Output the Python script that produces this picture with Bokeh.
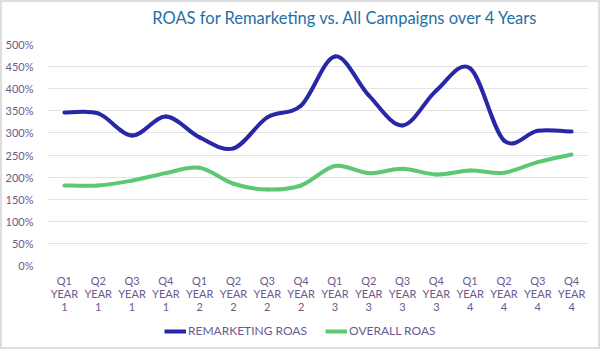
from bokeh.plotting import figure
from bokeh.models import (FixedTicker, Legend, LegendItem, ColumnDataSource, Range1d, Label)
from bokeh.layouts import column
from bokeh.embed import file_html
from bokeh.resources import INLINE

quarters = ["Q1", "Q2", "Q3", "Q4"] * 4
years = ["1"] * 4 + ["2"] * 4 + ["3"] * 4 + ["4"] * 4
remarketing = [346, 344, 294, 337, 290, 265, 335, 362, 473, 385, 317, 396, 446, 283, 305, 303]
overall = [181, 181, 192, 209, 221, 185, 172, 181, 225, 209, 219, 206, 215, 210, 234, 251]
y_ticks = [0, 50, 100, 150, 200, 250, 300, 350, 400, 450, 500]
title_text = "ROAS for Remarketing vs. All Campaigns over 4 Years"

BLUE = "#2727a8"
GREEN = "#5cc873"
TXT = "#6b5a8e"
FONT = "Lato"

n = len(remarketing)
xs = list(range(n))


def smooth_source(vals):
    # Catmull-Rom style smoothing rendered as cubic Bezier segments
    d = dict(x0=[], y0=[], x1=[], y1=[], cx0=[], cy0=[], cx1=[], cy1=[])
    for i in range(n - 1):
        p0 = (xs[max(i - 1, 0)], vals[max(i - 1, 0)])
        p1 = (xs[i], vals[i])
        p2 = (xs[i + 1], vals[i + 1])
        p3 = (xs[min(i + 2, n - 1)], vals[min(i + 2, n - 1)])
        d["x0"].append(p1[0]); d["y0"].append(p1[1])
        d["x1"].append(p2[0]); d["y1"].append(p2[1])
        d["cx0"].append(p1[0] + (p2[0] - p0[0]) / 6.0)
        d["cy0"].append(p1[1] + (p2[1] - p0[1]) / 6.0)
        d["cx1"].append(p2[0] - (p3[0] - p1[0]) / 6.0)
        d["cy1"].append(p2[1] - (p3[1] - p1[1]) / 6.0)
    return ColumnDataSource(d)


# title strip
t = figure(width=596, height=30, output_backend="svg", toolbar_location=None,
           x_axis_type=None, y_axis_type=None,
           x_range=Range1d(0, 1), y_range=Range1d(0, 1),
           min_border=0, min_border_left=0, min_border_right=0,
           min_border_top=0, min_border_bottom=0)
t.grid.visible = False
t.outline_line_color = None
t.border_fill_color = "white"
t.background_fill_color = "white"
t.add_layout(Label(x=298, y=15, x_units="screen", y_units="screen", text=title_text,
                   text_align="center", text_baseline="middle", text_font=FONT,
                   text_font_size="16.5px", text_color="#1f6fa5"))

p = figure(width=596, height=288, output_backend="svg", toolbar_location=None,
           x_range=Range1d(-0.5, n - 0.5), y_range=Range1d(0, 500),
           min_border_left=42, min_border_right=10, min_border_top=12, min_border_bottom=55)

p.bezier(x0="x0", y0="y0", x1="x1", y1="y1", cx0="cx0", cy0="cy0", cx1="cx1", cy1="cy1",
         source=smooth_source(remarketing), line_color=BLUE, line_width=4, line_cap="round")
p.bezier(x0="x0", y0="y0", x1="x1", y1="y1", cx0="cx0", cy0="cy0", cx1="cx1", cy1="cy1",
         source=smooth_source(overall), line_color=GREEN, line_width=4, line_cap="round")

p.xaxis.ticker = FixedTicker(ticks=xs)
p.xaxis.major_label_overrides = {i: f"{quarters[i]}\nYEAR\n{years[i]}" for i in xs}
p.yaxis.ticker = FixedTicker(ticks=y_ticks)
p.yaxis.major_label_overrides = {v: f"{v}%" for v in y_ticks}

for ax in (p.xaxis[0], p.yaxis[0]):
    ax.axis_line_color = None
    ax.major_tick_line_color = None
    ax.minor_tick_line_color = None
    ax.major_label_text_font = FONT
    ax.major_label_text_font_size = "11px"
    ax.major_label_text_color = TXT
p.yaxis.major_label_standoff = 8
p.xaxis.major_label_standoff = 2
p.xaxis.major_label_text_line_height = 1.0

p.xgrid.grid_line_color = None
p.ygrid.grid_line_color = "#e3e3e3"
p.ygrid.grid_line_width = 1
p.outline_line_color = None
p.background_fill_color = "white"
p.border_fill_color = "white"

# legend strip
q = figure(width=596, height=27, output_backend="svg", toolbar_location=None,
           x_range=Range1d(0, 1), y_range=Range1d(0, 1),
           min_border=0, min_border_left=0, min_border_right=0,
           min_border_top=0, min_border_bottom=0)
q.axis.visible = False
q.grid.visible = False
q.outline_line_color = None
q.border_fill_color = "white"
q.background_fill_color = "white"
l1 = q.line(x=[-5, -4], y=[-5, -5], line_color=BLUE, line_width=4)
l2 = q.line(x=[-5, -4], y=[-5, -5], line_color=GREEN, line_width=4)
legend = Legend(items=[LegendItem(label="REMARKETING ROAS", renderers=[l1]),
                       LegendItem(label="OVERALL ROAS", renderers=[l2])],
                orientation="horizontal", location=(117, 9),
                label_text_font=FONT, label_text_font_size="12px", label_text_color=TXT,
                glyph_width=22, glyph_height=12, spacing=18, padding=2, margin=0,
                label_standoff=2, border_line_color=None, background_fill_alpha=0)
q.add_layout(legend, "center")

inner = column(t, p, q, spacing=0, margin=(2, 2, 2, 2), styles={"background-color": "white"})
layout = column(inner, styles={"background-color": "#dedede"})

open("out.html", "w").write(file_html(layout, INLINE))
